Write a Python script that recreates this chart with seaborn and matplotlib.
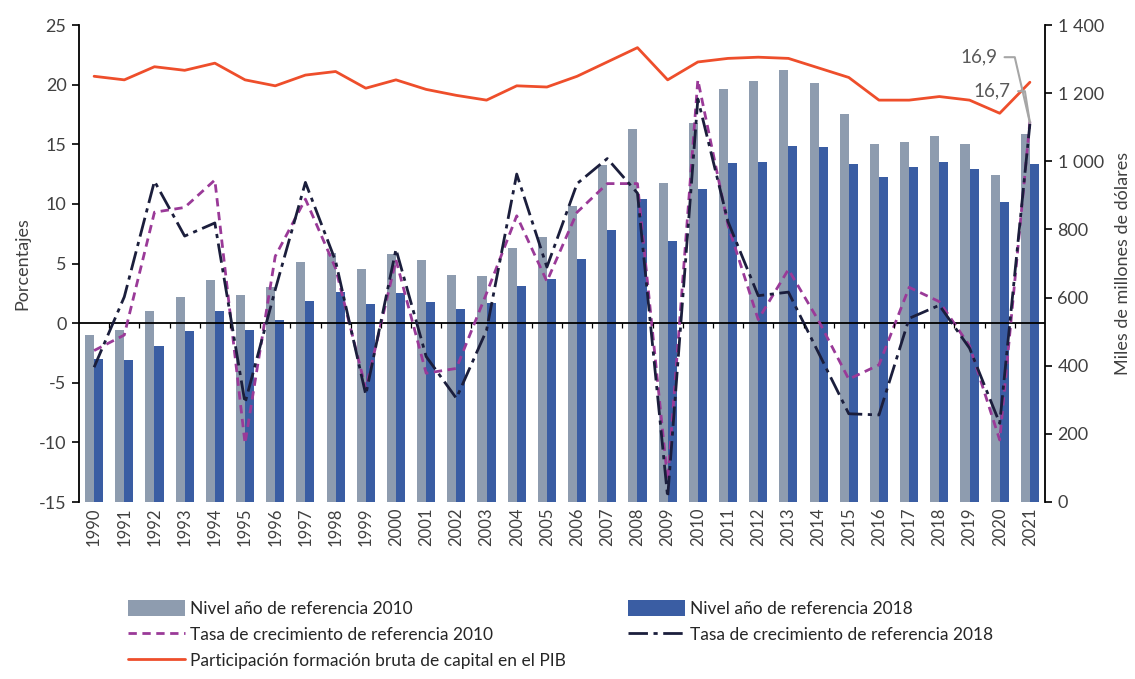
import numpy as np
import pandas as pd
import matplotlib
matplotlib.use("Agg")
import matplotlib.pyplot as plt
from matplotlib.patches import Patch
from matplotlib.lines import Line2D
from matplotlib.ticker import FuncFormatter
import seaborn as sns

years = [str(y) for y in range(1990, 2022)]
nivel_2010 = [490, 504, 561, 602, 653, 609, 632, 704, 730, 685, 729, 711, 665, 664, 746, 779,
              870, 990, 1094, 936, 1112, 1211, 1236, 1268, 1231, 1139, 1051, 1057, 1073, 1050, 960, 1079]
nivel_2018 = [421, 418, 458, 502, 562, 506, 534, 589, 615, 581, 613, 587, 565, 583, 634, 654,
              714, 798, 889, 765, 919, 996, 999, 1045, 1042, 992, 953, 983, 999, 977, 881, 991]
tasa_2010 = [-2.3, -1.0, 9.3, 9.7, 12.0, -10.1, 5.6, 10.4, 4.6, -5.5, 5.3, -4.2, -3.8, 2.5, 9.0, 3.5,
             9.3, 11.7, 11.7, -13.2, 20.4, 8.2, 0.3, 4.5, 0.2, -4.7, -3.5, 3.0, 1.8, -1.9, -9.8, 16.9]
tasa_2018 = [-3.7, 2.2, 11.9, 7.3, 8.4, -6.7, 2.8, 11.8, 5.2, -6.0, 6.2, -2.8, -6.3, -0.6, 12.5, 4.7,
             11.7, 13.8, 10.9, -14.6, 18.8, 8.5, 2.3, 2.6, -2.5, -7.6, -7.7, 0.4, 1.5, -2.1, -8.4, 16.7]
particip = [20.7, 20.4, 21.5, 21.2, 21.8, 20.4, 19.9, 20.8, 21.1, 19.7, 20.4, 19.6, 19.1, 18.7, 19.9, 19.8,
            20.7, 21.9, 23.1, 20.4, 21.9, 22.2, 22.3, 22.2, 21.4, 20.6, 18.7, 18.7, 19.0, 18.7, 17.6, 20.2]

lab_n10 = "Nivel año de referencia 2010"
lab_n18 = "Nivel año de referencia 2018"
lab_t10 = "Tasa de crecimiento de referencia 2010"
lab_t18 = "Tasa de crecimiento de referencia 2018"
lab_p = "Participación formación bruta de capital en el PIB"

c_gray = "#8E9CAF"
c_blue = "#3A5DA3"
c_purple = "#9A3A98"
c_dark = "#1B1E3C"
c_red = "#EE4E2B"
c_text = "#404040"

sns.set_theme(style="white")
plt.rcParams["font.family"] = ["Lato", "DejaVu Sans"]
plt.rcParams["axes.unicode_minus"] = False

fig = plt.figure(figsize=(11.35, 6.79), dpi=100)
ax = fig.add_axes([79 / 1135, 1 - 502 / 679, (1045 - 79) / 1135, (502 - 25) / 679])
ax2 = ax.twinx()

df = pd.DataFrame({
    "year": years * 2,
    "valor": nivel_2010 + nivel_2018,
    "serie": [lab_n10] * len(years) + [lab_n18] * len(years),
})
sns.barplot(data=df, x="year", y="valor", hue="serie", order=years,
            hue_order=[lab_n10, lab_n18], palette=[c_gray, c_blue],
            width=0.6, saturation=1, legend=False, ax=ax2, linewidth=0)

idx = np.arange(len(years))
sns.lineplot(x=idx, y=tasa_2010, ax=ax, color=c_purple, linewidth=2.0)
ax.lines[-1].set_dashes([3, 2])
sns.lineplot(x=idx, y=tasa_2018, ax=ax, color=c_dark, linewidth=2.0)
ax.lines[-1].set_dashes([7, 2, 1.5, 2])
sns.lineplot(x=idx, y=particip, ax=ax, color=c_red, linewidth=2.0)

ax.set_zorder(ax2.get_zorder() + 1)
ax.patch.set_visible(False)

ax.axhline(0, color="black", linewidth=1.3, zorder=1)
ax.vlines(idx[:-1] + 0.5, -0.45, 0, color="black", linewidth=0.9)

ax.set_ylim(-15, 25)
ax.set_yticks(np.arange(-15, 26, 5))
ax2.set_ylim(0, 1400)
ax2.set_yticks(np.arange(0, 1401, 200))
ax2.yaxis.set_major_formatter(FuncFormatter(lambda v, p: f"{int(v):,}".replace(",", " ")))
ax.set_xlim(-0.5, len(years) - 0.5)
ax2.set_xlim(-0.5, len(years) - 0.5)
ax.set_xticks(idx)
ax.set_xticklabels(years, rotation=90)

for a in (ax, ax2):
    for s in ("top", "bottom"):
        a.spines[s].set_visible(False)
ax.spines["right"].set_visible(False)
ax2.spines["left"].set_visible(False)
ax.spines["left"].set_color("black")
ax2.spines["right"].set_color("black")
ax.spines["left"].set_linewidth(1.3)
ax2.spines["right"].set_linewidth(1.3)

ax.tick_params(axis="y", direction="out", length=5, width=1.2, color="black",
               labelsize=13, labelcolor=c_text, left=True, pad=4)
ax2.tick_params(axis="y", direction="out", length=5, width=1.2, color="black",
                labelsize=13, labelcolor=c_text, right=True, pad=4)
ax.tick_params(axis="x", length=0, labelsize=12, labelcolor=c_text, pad=4)
ax.set_ylabel("Porcentajes", fontsize=13, color=c_text, labelpad=6)
ax.set_xlabel("")
ax2.set_xlabel("")
ax2.set_ylabel("Miles de millones de dólares", fontsize=13, color=c_text, labelpad=8)
ax.grid(False)
ax2.grid(False)

# data labels for 2021
last = len(years) - 1
ypt = (tasa_2010[-1] + tasa_2018[-1]) / 2
ax.annotate("16,9", xy=(last, ypt), xytext=(29.3, 22.3),
            ha="center", va="center", fontsize=13.5, color="#595959",
            arrowprops=dict(arrowstyle="-", color="#A6A6A6", lw=1.5, relpos=(1, 0.5),
                            shrinkA=3, shrinkB=0,
                            connectionstyle="angle,angleA=0,angleB=103,rad=0"))
ax.annotate("16,7", xy=(last, ypt), xytext=(29.75, 19.45),
            ha="center", va="center", fontsize=13.5, color="#595959",
            arrowprops=dict(arrowstyle="-", color="#A6A6A6", lw=1.5, relpos=(1, 0.5),
                            shrinkA=3, shrinkB=0,
                            connectionstyle="angle,angleA=0,angleB=99,rad=0"))

h_n10 = Patch(facecolor=c_gray, edgecolor="none")
h_n18 = Patch(facecolor=c_blue, edgecolor="none")
h_t10 = Line2D([], [], color=c_purple, lw=2, dashes=[3, 2])
h_t18 = Line2D([], [], color=c_dark, lw=2, dashes=[7, 2, 1.5, 2])
h_p = Line2D([], [], color=c_red, lw=2)

leg_kw = dict(frameon=False, fontsize=12.5, handlelength=3.3, handleheight=1.0,
              handletextpad=0.25, labelspacing=0.55, borderaxespad=0, borderpad=0)
fig.legend([h_n10, h_t10, h_p], [lab_n10, lab_t10, lab_p], loc="upper left",
           bbox_to_anchor=(128 / 1135, 1 - 600 / 679), **leg_kw)
fig.legend([h_n18, h_t18], [lab_n18, lab_t18], loc="upper left",
           bbox_to_anchor=(628 / 1135, 1 - 600 / 679), **leg_kw)

fig.savefig("out.png", dpi=100, facecolor="white")
